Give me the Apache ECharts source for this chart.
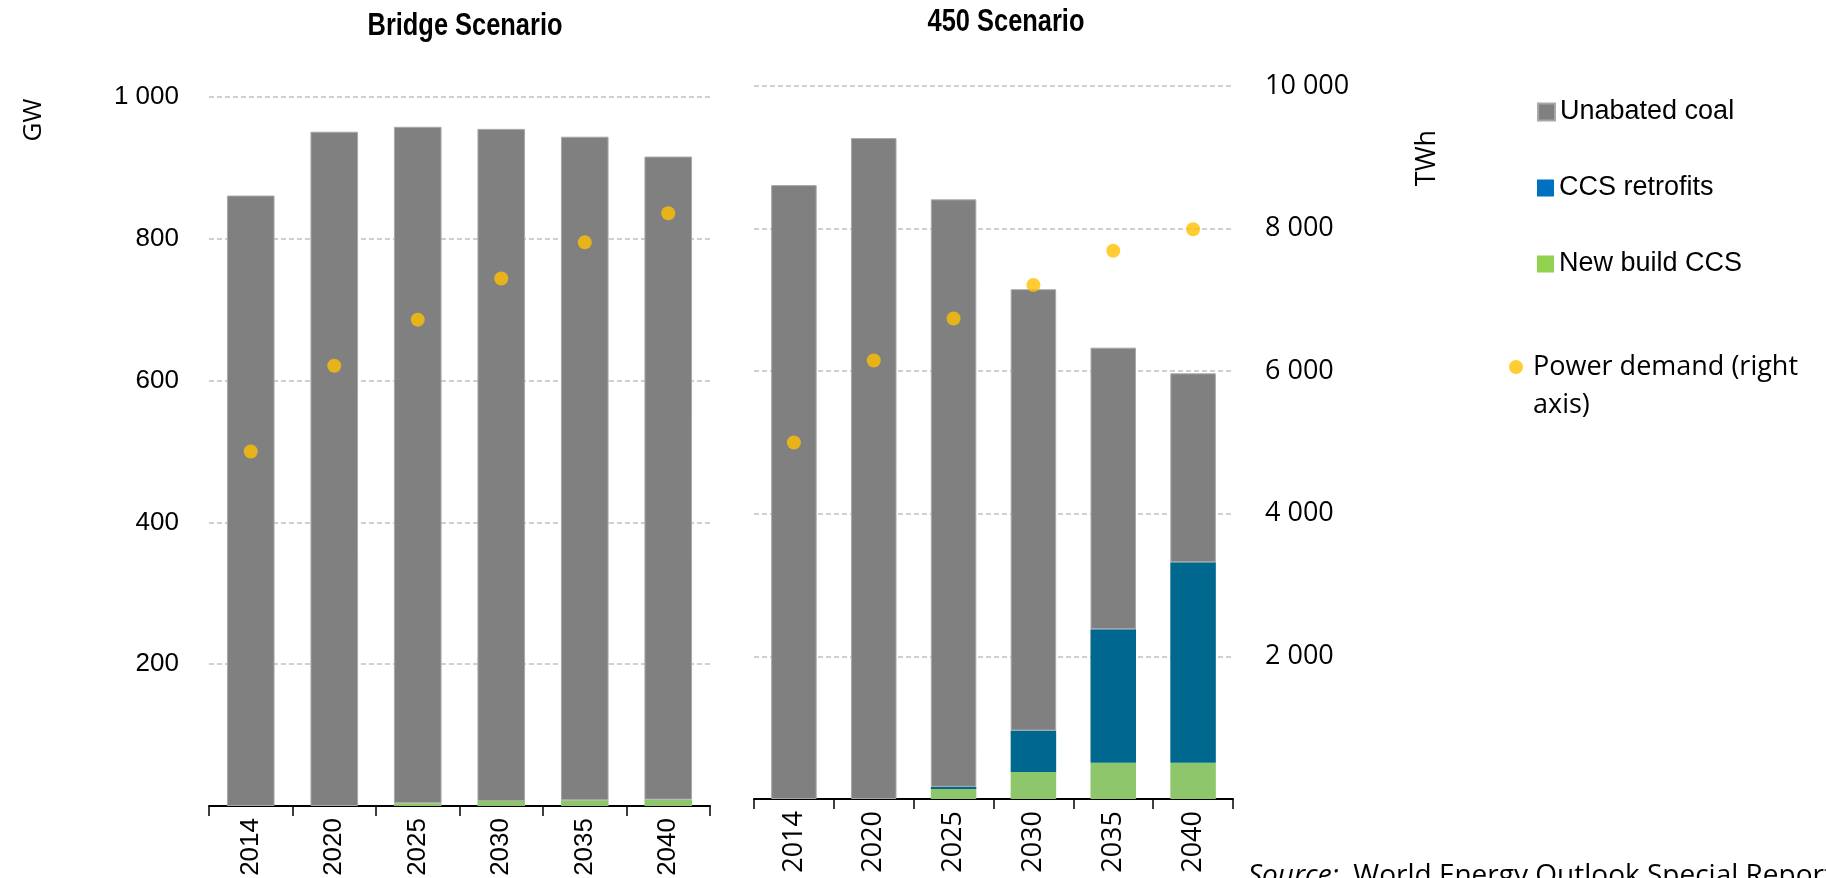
<!DOCTYPE html>
<html>
<head>
<meta charset="utf-8">
<script src="https://cdn.jsdelivr.net/npm/echarts@6/dist/echarts.min.js"></script>
<style>
  html, body { margin: 0; padding: 0; background: #fff; }
  #chart { width: 1826px; height: 878px; }
</style>
</head>
<body>
<div id="chart"></div>
<script>
var years = ['2014', '2020', '2025', '2030', '2035', '2040'];

// Bridge Scenario (GW / TWh)
var bridgeCoal = [861, 951, 954, 948, 936, 907];
var bridgeRetrofit = [0, 0, 0, 0, 0, 0];
var bridgeNewBuild = [0, 0, 4, 7, 8, 9];
var bridgeDemand = [5000, 6210, 6860, 7440, 7950, 8360];

// 450 Scenario
var s450Coal = [861, 927, 824, 619, 395, 265];
var s450Retrofit = [0, 0, 3, 58, 187, 281];
var s450NewBuild = [0, 0, 14, 38, 51, 51];
var s450Demand = [5000, 6150, 6740, 7210, 7690, 7990];

var gwTicks = [0, 200, 400, 600, 800, 1000];
var twhTicks = [0, 2000, 4000, 6000, 8000, 10000];

var NARROW = "'Liberation Sans', Arial, sans-serif";
var SANS = "'Open Sans', 'Noto Sans', sans-serif";
var GRAY = '#808080', BLUE = '#00688f', GREEN = '#8dc66b', GOLD = '#ffc000';

function spaced(v) {
  return String(v).replace(/\B(?=(\d{3})+(?!\d))/g, ' ');
}

var chart = echarts.init(document.getElementById('chart'), null, { renderer: 'canvas' });

var gridLine = { show: true, lineStyle: { color: '#c0c0c0', width: 1.5, type: [5, 3] } };

function catAxis(gridIndex, font, size) {
  return {
    type: 'category',
    gridIndex: gridIndex,
    data: years,
    boundaryGap: true,
    axisLine: { lineStyle: { color: '#000', width: 2 } },
    axisTick: { show: true, length: 10, lineStyle: { color: '#000', width: 1.5 } },
    axisLabel: { rotate: 90, margin: 12, color: '#000', fontFamily: font, fontSize: size },
    splitLine: { show: false }
  };
}

function barSeries(name, data, color, xi, yi, stack, border) {
  return {
    name: name,
    type: 'bar',
    stack: stack,
    xAxisIndex: xi,
    yAxisIndex: yi,
    barWidth: '57%',
    data: data,
    itemStyle: border
      ? { color: color, borderColor: '#a8a8a8', borderWidth: 1 }
      : { color: color },
    emphasis: { disabled: true }
  };
}

function dotSeries(data, xi, yi) {
  return {
    name: 'Power demand (right axis)',
    type: 'scatter',
    xAxisIndex: xi,
    yAxisIndex: yi,
    symbol: 'circle',
    symbolSize: 14,
    z: 5,
    itemStyle: { color: GOLD },
    data: data
  };
}

function singleLegend(name, color, left, top, font, size, icon, w, h, fmt) {
  return {
    orient: 'vertical',
    left: left,
    top: top,
    padding: 0,
    itemWidth: w,
    itemHeight: h,
    selectedMode: false,
    data: [{ name: name, icon: icon, itemStyle: { color: color } }],
    formatter: fmt || null,
    textStyle: {
      fontFamily: font, fontSize: size, color: '#000', lineHeight: 34,
      rich: { gap: { width: 5 } }
    }
  };
}

function label(text, x, y, font, extra) {
  var el = {
    type: 'text', x: x, y: y,
    style: { text: text, font: font, fill: '#000', textAlign: 'center', textVerticalAlign: 'middle', align: 'center', verticalAlign: 'middle' }
  };
  for (var k in extra) el[k] = extra[k];
  return el;
}

chart.setOption({
  animation: false,
  backgroundColor: '#fff',
  grid: [
    { left: 209, top: 97, width: 501, height: 709, outerBoundsMode: 'none', containLabel: false },
    { left: 754, top: 86, width: 479, height: 713, outerBoundsMode: 'none', containLabel: false }
  ],
  xAxis: [catAxis(0, NARROW, 26), catAxis(1, SANS, 27)],
  yAxis: [
    {
      type: 'value', gridIndex: 0, position: 'left',
      min: gwTicks[0], max: gwTicks[gwTicks.length - 1], interval: 200,
      axisLine: { show: false }, axisTick: { show: false },
      axisLabel: { showMinLabel: false, margin: 30, color: '#000', fontFamily: NARROW, fontSize: 26, formatter: spaced },
      splitLine: gridLine
    },
    {
      type: 'value', gridIndex: 0, position: 'right', show: false,
      min: twhTicks[0], max: twhTicks[twhTicks.length - 1], interval: 2000,
      splitLine: { show: false }
    },
    {
      type: 'value', gridIndex: 1, position: 'left', show: false,
      min: gwTicks[0], max: gwTicks[gwTicks.length - 1], interval: 200,
      splitLine: { show: false }
    },
    {
      type: 'value', gridIndex: 1, position: 'right',
      min: twhTicks[0], max: twhTicks[twhTicks.length - 1], interval: 2000,
      axisLine: { show: false }, axisTick: { show: false },
      axisLabel: { showMinLabel: false, margin: 32, color: '#000', fontFamily: SANS, fontSize: 27, formatter: spaced },
      splitLine: gridLine
    }
  ],
  legend: [
    singleLegend('Unabated coal', GRAY, 1537, 95, NARROW, 27, 'rect', 17, 17),
    singleLegend('CCS retrofits', '#0070c0', 1537, 171, NARROW, 27, 'rect', 17, 17),
    singleLegend('New build CCS', '#92d050', 1537, 247, NARROW, 27, 'rect', 17, 17),
    singleLegend('Power demand (right axis)', GOLD, 1509, 350, SANS, 27, 'circle', 14, 14,
      function () { return '{gap|}Power demand (right'; })
  ],
  series: [
    barSeries('New build CCS', bridgeNewBuild, GREEN, 0, 0, 'bridge'),
    barSeries('CCS retrofits', bridgeRetrofit, BLUE, 0, 0, 'bridge'),
    barSeries('Unabated coal', bridgeCoal, GRAY, 0, 0, 'bridge', true),
    dotSeries(bridgeDemand, 0, 1),
    barSeries('New build CCS', s450NewBuild, GREEN, 1, 2, 's450'),
    barSeries('CCS retrofits', s450Retrofit, BLUE, 1, 2, 's450'),
    barSeries('Unabated coal', s450Coal, GRAY, 1, 2, 's450', true),
    dotSeries(s450Demand, 1, 3)
  ],
  graphic: [
    label('Bridge Scenario', 465, 26, 'bold 31px ' + NARROW, { scaleX: 0.82 }),
    label('450 Scenario', 1006, 22, 'bold 31px ' + NARROW, { scaleX: 0.82 }),
    label('GW', 34, 120, '26px ' + SANS, { rotation: Math.PI / 2 }),
    label('TWh', 1427, 158, '27px ' + SANS, { rotation: Math.PI / 2 }),
    { type: 'text', x: 1533, y: 405, style: { text: 'axis)', font: '27px ' + SANS, fill: '#000', textVerticalAlign: 'middle', verticalAlign: 'middle' } },
    { type: 'text', x: 1248, y: 862, style: { text: '{i|Source:}  World Energy Outlook Special Report', font: '28px ' + SANS, fill: '#000', rich: { i: { fontStyle: 'italic', fontFamily: SANS, fontSize: 28 } } } }
  ]
});
</script>
</body>
</html>
